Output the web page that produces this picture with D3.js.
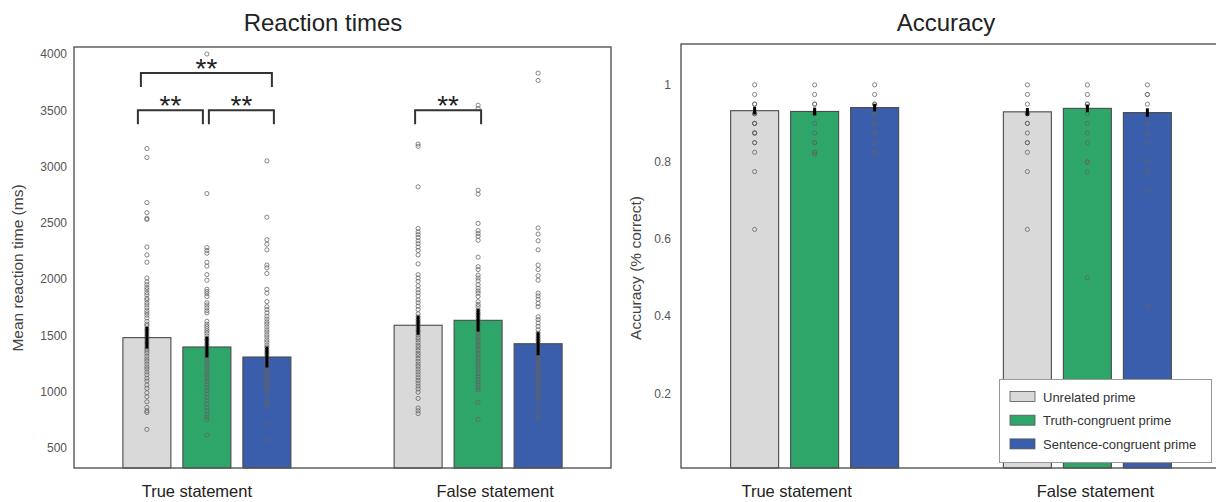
<!DOCTYPE html>
<html>
<head>
<meta charset="utf-8">
<script src="https://cdn.jsdelivr.net/npm/d3@7"></script>
<style>
    body { margin: 0; background: #fff; }
    text { font-family: "Liberation Sans", Arial, Helvetica, sans-serif; }
</style>
</head>
<body>
<div id="chart"></div>
<script>
// categories
var groups = ['True statement', 'False statement'];
var conditions = ['Unrelated prime', 'Truth-congruent prime', 'Sentence-congruent prime'];
var colors = ['#d9d9d9', '#2ea66a', '#3a5eab'];

// reaction times: bar means and SEM (ms), [group][condition]
var rtMeans = [[1480, 1397, 1308], [1590, 1634, 1426]];
var rtSem = [[96, 93, 93], [85, 100, 103]];
var rtTicks = [500, 1000, 1500, 2000, 2500, 3000, 3500, 4000];

// accuracy: bar means and SEM
var accMeans = [[0.933, 0.931, 0.941], [0.930, 0.939, 0.928]];
var accSem = [[0.010, 0.010, 0.010], [0.010, 0.010, 0.011]];
var accTicks = [0.2, 0.4, 0.6, 0.8, 1];

// per-participant reaction times
var rtTrueUnrelated = [3160, 3080, 2680, 2590, 2540, 2530, 2285, 2215, 2150, 2010, 1975, 1950, 1925, 1905, 1880, 1860, 1830, 1815, 1790, 1770, 1745, 1720, 1700, 1680, 1655, 1625, 1600, 1585, 1560, 1540, 1515, 1490, 1470, 1445, 1425, 1400, 1380, 1360, 1340, 1315, 1290, 1270, 1245, 1220, 1200, 1175, 1150, 1120, 1095, 1060, 1030, 990, 955, 910, 860, 830, 815, 665];
var rtTrueTruth = [4000, 2760, 2280, 2255, 2230, 2150, 2115, 2040, 1990, 1910, 1890, 1870, 1845, 1790, 1770, 1745, 1720, 1700, 1625, 1600, 1580, 1560, 1540, 1520, 1495, 1470, 1455, 1430, 1410, 1390, 1365, 1345, 1325, 1300, 1280, 1255, 1235, 1210, 1185, 1160, 1140, 1115, 1090, 1060, 1035, 1010, 980, 950, 920, 890, 860, 830, 800, 775, 750, 615];
var rtTrueSentence = [3050, 2550, 2350, 2310, 2260, 2125, 2100, 2050, 1910, 1875, 1800, 1755, 1730, 1700, 1670, 1645, 1620, 1600, 1575, 1550, 1530, 1505, 1485, 1460, 1440, 1415, 1395, 1370, 1350, 1330, 1305, 1285, 1260, 1240, 1220, 1195, 1175, 1150, 1130, 1110, 1085, 1060, 1040, 1015, 990, 925, 900, 870, 720, 570];
var rtFalseUnrelated = [3200, 3180, 2820, 2450, 2420, 2395, 2370, 2340, 2315, 2285, 2255, 2215, 2135, 2040, 2010, 1980, 1940, 1905, 1880, 1850, 1815, 1790, 1760, 1730, 1690, 1665, 1640, 1620, 1600, 1575, 1550, 1530, 1505, 1480, 1460, 1435, 1410, 1390, 1365, 1340, 1320, 1295, 1270, 1245, 1225, 1200, 1175, 1150, 1125, 1100, 1075, 1050, 1025, 995, 940, 855, 830, 805];
var rtFalseTruth = [3545, 3515, 2790, 2755, 2495, 2430, 2405, 2380, 2345, 2195, 2110, 2085, 2035, 2010, 1985, 1950, 1920, 1895, 1875, 1845, 1800, 1775, 1755, 1725, 1700, 1680, 1655, 1630, 1605, 1585, 1560, 1540, 1515, 1490, 1470, 1445, 1420, 1400, 1375, 1350, 1330, 1305, 1280, 1255, 1235, 1210, 1185, 1160, 1135, 1110, 1085, 1060, 1035, 1015, 905, 755];
var rtFalseSentence = [3830, 3765, 2455, 2400, 2340, 2260, 2125, 2085, 2030, 1990, 1875, 1850, 1820, 1785, 1755, 1665, 1640, 1610, 1580, 1550, 1520, 1495, 1470, 1450, 1425, 1400, 1380, 1355, 1330, 1305, 1285, 1260, 1240, 1215, 1195, 1170, 1150, 1125, 1100, 1080, 1055, 1030, 1005, 980, 955, 930, 865, 830, 795, 765];

// per-participant accuracy
var accTrueUnrelated = [1, 0.975, 0.95, 0.95, 0.925, 0.925, 0.9, 0.9, 0.9, 0.875, 0.875, 0.875, 0.85, 0.85, 0.825, 0.775, 0.625];
var accTrueTruth = [1, 0.975, 0.95, 0.95, 0.925, 0.925, 0.9, 0.875, 0.85, 0.85, 0.825, 0.825, 0.82];
var accTrueSentence = [1, 0.975, 0.95, 0.95, 0.925, 0.925, 0.9, 0.9, 0.875, 0.875, 0.85, 0.825, 0.825];
var accFalseUnrelated = [1, 0.975, 0.95, 0.925, 0.925, 0.9, 0.9, 0.875, 0.85, 0.85, 0.825, 0.775, 0.625];
var accFalseTruth = [1, 0.975, 0.95, 0.95, 0.925, 0.9, 0.875, 0.85, 0.8, 0.8, 0.775, 0.5];
var accFalseSentence = [1, 0.975, 0.975, 0.95, 0.925, 0.9, 0.9, 0.875, 0.85, 0.8, 0.775, 0.725, 0.425];

var rtPoints = [[rtTrueUnrelated, rtTrueTruth, rtTrueSentence], [rtFalseUnrelated, rtFalseTruth, rtFalseSentence]];
var accPoints = [[accTrueUnrelated, accTrueTruth, accTrueSentence], [accFalseUnrelated, accFalseTruth, accFalseSentence]];

// significance brackets (reaction times)
var brackets = [
    {group: 0, from: 0, to: 2, level: 3830, dx: [-6, 5]},
    {group: 0, from: 0, to: 1, level: 3500, dx: [-9, -4]},
    {group: 0, from: 1, to: 2, level: 3500, dx: [2, 7]},
    {group: 1, from: 0, to: 1, level: 3500, dx: [-3, 3]}
];

var width = 1216, height = 502;
var svg = d3.select('#chart').append('svg')
    .attr('width', width)
    .attr('height', height);

function drawPanel(p) {
    var x0 = d3.scalePoint().domain(groups).range([p.left, p.right]).padding(0.49);
    var x1 = d3.scaleBand().domain(conditions).range([-90, 90]).paddingInner(0.2).paddingOuter(0.1);
    var y = d3.scaleLinear().domain(p.domain).range([p.bottom, p.top]);
    var g = svg.append('g');

    function cx(gi, ci) {
        return x0(groups[gi]) + x1(conditions[ci]) + x1.bandwidth() / 2;
    }

    var cells = [];
    p.means.forEach(function(row, gi) {
        row.forEach(function(m, ci) {
            cells.push({g: gi, c: ci, mean: m, sem: p.sem[gi][ci], pts: p.points[gi][ci]});
        });
    });

    // bars
    g.selectAll('rect.bar')
        .data(cells)
        .enter().append('rect')
        .attr('class', 'bar')
        .attr('x', function(d) { return x0(groups[d.g]) + x1(conditions[d.c]); })
        .attr('y', function(d) { return y(d.mean); })
        .attr('width', x1.bandwidth())
        .attr('height', function(d) { return p.bottom - y(d.mean); })
        .attr('fill', function(d) { return colors[d.c]; })
        .attr('stroke', '#4a4a4a')
        .attr('stroke-width', 1.1);

    // participant dots
    g.selectAll('g.dots')
        .data(cells)
        .enter().append('g')
        .attr('class', 'dots')
        .selectAll('circle')
        .data(function(d) { return d.pts.map(function(v) { return {v: v, g: d.g, c: d.c}; }); })
        .enter().append('circle')
        .attr('cx', function(d) { return cx(d.g, d.c); })
        .attr('cy', function(d) { return y(d.v); })
        .attr('r', 2.1)
        .attr('fill', 'none')
        .attr('stroke', '#636363')
        .attr('stroke-opacity', 0.9)
        .attr('stroke-width', 0.85);

    // error bars
    g.selectAll('line.err')
        .data(cells)
        .enter().append('line')
        .attr('x1', function(d) { return cx(d.g, d.c); })
        .attr('x2', function(d) { return cx(d.g, d.c); })
        .attr('y1', function(d) { return y(d.mean - d.sem); })
        .attr('y2', function(d) { return y(d.mean + d.sem); })
        .attr('stroke', '#000')
        .attr('stroke-width', 3);

    // frame
    g.append('rect')
        .attr('x', p.left).attr('y', p.top)
        .attr('width', p.right - p.left).attr('height', p.bottom - p.top)
        .attr('fill', 'none')
        .attr('stroke', '#555')
        .attr('stroke-width', 1.4);

    // y axis labels only
    var ax = g.append('g')
        .attr('transform', 'translate(' + p.left + ',0)')
        .call(d3.axisLeft(y).tickValues(p.ticks).tickSize(0).tickPadding(p.tickPad).tickFormat(p.fmt));
    ax.select('.domain').remove();
    ax.selectAll('text')
        .attr('font-size', 12)
        .attr('fill', '#555')
        .style('font-family', '"Liberation Sans", Arial, sans-serif');

    // group labels
    g.selectAll('text.grp')
        .data(groups)
        .enter().append('text')
        .attr('x', function(d, i) { return x0(d) + p.groupDx[i]; })
        .attr('y', 497)
        .attr('text-anchor', 'middle')
        .attr('font-size', 16.5)
        .attr('fill', '#222')
        .text(function(d) { return d; });

    g.append('text')
        .attr('x', p.titleX)
        .attr('y', 31)
        .attr('text-anchor', 'middle')
        .attr('font-size', 24)
        .attr('fill', '#222')
        .text(p.title);

    g.append('text')
        .attr('transform', 'translate(' + p.labelX + ',' + 268 + ') rotate(-90)')
        .attr('text-anchor', 'middle')
        .attr('font-size', 15.5)
        .attr('fill', '#444')
        .text(p.label);

    return {x: cx, y: y, g: g};
}

var rt = drawPanel({
    left: 74, right: 611, top: 47, bottom: 468,
    domain: [322, 4062], ticks: rtTicks, tickPad: 7, fmt: d3.format('d'),
    means: rtMeans, sem: rtSem, points: rtPoints,
    title: 'Reaction times', titleX: 323, groupDx: [-10, 17],
    label: 'Mean reaction time (ms)', labelX: 23
});

var acc = drawPanel({
    left: 681, right: 1221, top: 44, bottom: 468,
    domain: [0.006, 1.106], ticks: accTicks, tickPad: 10, fmt: function(d) { return String(d); },
    means: accMeans, sem: accSem, points: accPoints,
    title: 'Accuracy', titleX: 946, groupDx: [-18, 8],
    label: 'Accuracy (% correct)', labelX: 641
});

// significance brackets
var legPx = 14;
brackets.forEach(function(b) {
    var xa = rt.x(b.group, b.from) + b.dx[0],
        xb = rt.x(b.group, b.to) + b.dx[1],
        yb = rt.y(b.level);
    rt.g.append('path')
        .attr('d', 'M' + xa + ',' + (yb + legPx) + 'V' + yb + 'H' + xb + 'V' + (yb + legPx))
        .attr('fill', 'none')
        .attr('stroke', '#333')
        .attr('stroke-width', 2);
    rt.g.append('text')
        .attr('x', (xa + xb) / 2)
        .attr('y', yb - 11 + 16)
        .attr('text-anchor', 'middle')
        .attr('font-size', 28)
        .attr('fill', '#222')
        .text('**');
});

// legend
var leg = svg.append('g').attr('transform', 'translate(999.5,379.5)');
leg.append('rect')
    .attr('width', 212).attr('height', 83)
    .attr('fill', '#fff')
    .attr('stroke', '#999')
    .attr('stroke-width', 1);
var items = leg.selectAll('g.item')
    .data(conditions)
    .enter().append('g')
    .attr('transform', function(d, i) { return 'translate(10.5,' + (12 + i * 23.7) + ')'; });
items.append('rect')
    .attr('width', 25).attr('height', 10)
    .attr('fill', function(d, i) { return colors[i]; })
    .attr('stroke', '#555')
    .attr('stroke-width', 0.8);
items.append('text')
    .attr('x', 33)
    .attr('y', 10)
    .attr('font-size', 13)
    .attr('fill', '#333')
    .text(function(d) { return d; });
</script>
</body>
</html>
